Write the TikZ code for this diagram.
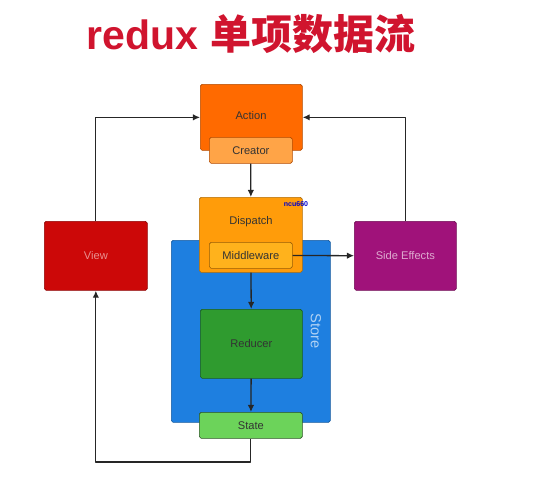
\documentclass[tikz,border=0pt]{standalone}
\usepackage{fontspec}
\setmainfont{Liberation Sans}
\newfontfamily\cjk{Noto Sans CJK SC}
\usetikzlibrary{arrows.meta}

\definecolor{titlered}{HTML}{D0142E}
\definecolor{actionc}{HTML}{FF6A00}
\definecolor{creatorc}{HTML}{FFA447}
\definecolor{dispatchc}{HTML}{FF9C0A}
\definecolor{middlec}{HTML}{FFB21C}
\definecolor{storec}{HTML}{1E7FE0}
\definecolor{reducerc}{HTML}{2F9B2F}
\definecolor{statec}{HTML}{6CD35A}
\definecolor{viewc}{HTML}{CC0808}
\definecolor{sidec}{HTML}{A0127A}

\tikzset{
  box/.style={draw=black!55, rounded corners=1.5pt, line width=0.6pt,
    font=\fontsize{9.5}{11}\selectfont, text=black!80, inner sep=0pt},
  flow/.style={draw=black!85, line width=1.1pt, -{Latex[length=6pt,width=5.5pt]}}
}

\begin{document}
\begin{tikzpicture}[x=0.3mm, y=-0.3mm, line join=round]

% Frame (pixel grid of the reference)
\useasboundingbox (0,0) rectangle (538,480);

% Title
\node[font=\fontsize{35}{40}\selectfont\bfseries, text=titlered] (title) at (251,34)
  {redux {\cjk\bfseries 单项数据流}};

% --- Store (drawn first, behind Dispatch) ---
\node[box, fill=storec, draw=storec!70!black, minimum width=47.7mm, minimum height=54.6mm,
  anchor=north west] (store) at (171,240) {};
\node[rotate=-90, text=storec!35!white, font=\fontsize{12.5}{14}\selectfont] (storelbl) at (316,331) {Store};

% --- Action / Creator ---
\node[box, fill=actionc, draw=actionc!70!black, minimum width=30.6mm, minimum height=19.8mm,
  anchor=north west] (action) at (200,84) {};
\node[font=\fontsize{9.5}{11}\selectfont, text=black!80] (actionlbl) at (251,116) {Action};
\node[box, fill=creatorc, draw=actionc!70!black, minimum width=24.9mm, minimum height=7.8mm,
  anchor=north west] (creator) at (209,137) {Creator};

% --- Dispatch / Middleware ---
\node[box, fill=dispatchc, draw=dispatchc!70!black, minimum width=30.9mm, minimum height=22.5mm,
  anchor=north west] (dispatch) at (199,197) {};
\node[font=\fontsize{9.5}{11}\selectfont, text=black!80] (dispatchlbl) at (251,222) {Dispatch};
\node[box, fill=middlec, draw=dispatchc!60!black, minimum width=24.9mm, minimum height=7.8mm,
  anchor=north west] (middle) at (209,242) {Middleware};

% --- Reducer / State ---
\node[box, fill=reducerc, draw=reducerc!60!black, minimum width=30.6mm, minimum height=20.7mm,
  anchor=north west] (reducer) at (200,309) {Reducer};
\node[box, fill=statec, draw=statec!40!black, minimum width=30.9mm, minimum height=7.8mm,
  anchor=north west] (state) at (199,412) {State};

% --- View / Side Effects ---
\node[box, fill=viewc, draw=viewc!70!black, text=viewc!45!white, minimum width=30.9mm,
  minimum height=20.7mm, anchor=north west] (view) at (44,221) {View};
\node[box, fill=sidec, draw=sidec!70!black, text=sidec!35!white, minimum width=30.6mm,
  minimum height=20.7mm, anchor=north west] (side) at (354,221) {Side Effects};

% watermark
\node[text=blue!80!black, font=\fontsize{6}{7}\selectfont\bfseries] (mark) at (296,204) {ncu660};

% Corner points of the loops
\coordinate (vtop) at (view.north |- action.west);
\coordinate (stop) at (side.north |- action.east);
\coordinate (sbot) at (state.south |- 0,462);
\coordinate (vbot) at (view.south |- 0,462);

% --- Connectors ---
\draw[flow] (creator) -- (dispatch);
\draw[flow] (middle) -- (side);
\draw[flow] (dispatch) -- (reducer);
\draw[flow] (reducer) -- (state);
\draw[flow] (state) -- (sbot) -- (vbot) -- (view);
\draw[flow] (view) -- (vtop) -- (action);
\draw[flow] (side) -- (stop) -- (action);

\end{tikzpicture}
\end{document}
